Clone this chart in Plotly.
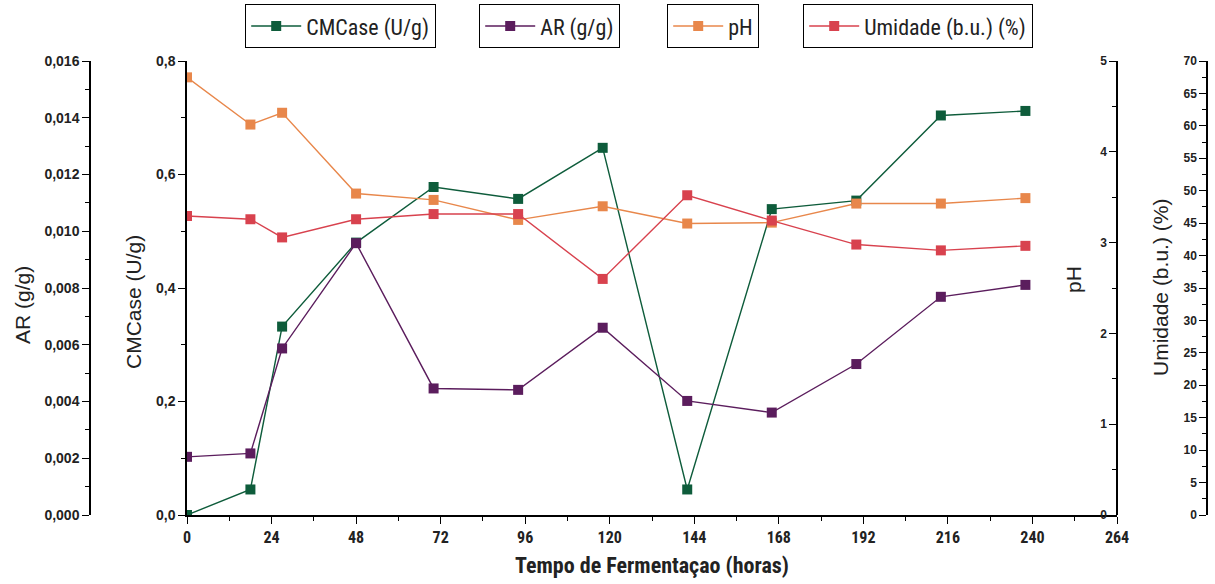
import plotly.graph_objects as go

# Data
hours = [0, 18, 27, 48, 70, 94, 118, 142, 166, 190, 214, 238]
cmcase = [0.0, 0.045, 0.332, 0.480, 0.578, 0.557, 0.647, 0.045, 0.539, 0.554, 0.704, 0.712]
ar = [0.00205, 0.00217, 0.00587, 0.00958, 0.00446, 0.00441, 0.0066, 0.00402, 0.00361, 0.00532, 0.00769, 0.00811]
ph = [4.82, 4.30, 4.43, 3.54, 3.47, 3.25, 3.40, 3.21, 3.22, 3.43, 3.43, 3.49]
umidade = [46.1, 45.6, 42.8, 45.6, 46.4, 46.4, 36.4, 49.3, 45.4, 41.7, 40.8, 41.5]

W, H = 1215, 584
PL, PR, PT, PB = 187, 1117, 61, 515  # plot box in px

GREEN = "#0e5c3b"
PURPLE = "#5b1d5d"
ORANGE = "#e8874b"
RED = "#d8424e"

NARROW = "Liberation Sans Narrow, Roboto Condensed, Liberation Sans, Arial"
LEG_FONT = dict(family=NARROW, size=22, color="#222")
TICK_FONT = dict(family="Liberation Sans, Arial", size=14, color="#222", weight="bold")
TICK_FONT_R = dict(family="Liberation Sans, Arial", size=12, color="#222", weight="bold")
XTICK_FONT = dict(family=NARROW, size=16, color="#222", weight="bold")

fig = go.Figure()

def add(name, y, color, yaxis, legend):
    fig.add_trace(go.Scatter(
        x=hours, y=y, name=name, mode="lines+markers", yaxis=yaxis,
        line=dict(color=color, width=1.4),
        marker=dict(symbol="square", size=10, color=color),
        legend=legend, showlegend=True,
    ))

add("CMCase (U/g)", cmcase, GREEN, "y", "legend")
add("AR (g/g)", ar, PURPLE, "y2", "legend2")
add("pH", ph, ORANGE, "y3", "legend3")
add("Umidade (b.u.) (%)", umidade, RED, "y4", "legend4")

def px_x(p):
    return p / W

def axis(font, minor_dtick, **kw):
    d = dict(
        showline=True, linecolor="black", linewidth=1.5,
        ticks="outside", ticklen=7, tickwidth=1.3, tickcolor="black",
        showgrid=False, zeroline=False, tickfont=font, automargin=False,
        minor=dict(ticks="outside", ticklen=4, tickwidth=1.1, tickcolor="black",
                   dtick=minor_dtick, tick0=0, showgrid=False),
    )
    d.update(kw)
    return d

legy = 1 + (PT - 4) / (PB - PT)

def leg(xpx):
    return dict(x=px_x(xpx), y=legy, xanchor="left", yanchor="top",
                orientation="h", bordercolor="black", borderwidth=1.2,
                bgcolor="white", font=LEG_FONT, itemwidth=50)

fig.update_layout(
    width=W, height=H,
    margin=dict(l=0, r=0, t=PT, b=H - PB),
    paper_bgcolor="white", plot_bgcolor="white",
    separators=",.",
    showlegend=True,
    xaxis=axis(XTICK_FONT, 12,
               domain=[px_x(PL), px_x(PR)], range=[0, 264], tickmode="linear", tick0=0, dtick=24,
               title=dict(text="<b>Tempo de Fermentaçao (horas)</b>",
                          font=dict(family=NARROW, size=22, color="#222"), standoff=12)),
    yaxis=axis(TICK_FONT, 0.1, range=[0, 0.8], tickmode="linear", tick0=0, dtick=0.2,
               tickformat=".1f", side="left", anchor="x"),
    yaxis2=axis(TICK_FONT, 0.001, range=[0, 0.016], tickmode="linear", tick0=0, dtick=0.002,
                tickformat=".3f", side="left", anchor="free", position=px_x(90), overlaying="y"),
    yaxis3=axis(TICK_FONT_R, 0.5, range=[0, 5], tickmode="linear", tick0=0, dtick=1,
                tickformat="d", side="left", anchor="free", position=px_x(PR), overlaying="y"),
    yaxis4=axis(TICK_FONT_R, 2.5, range=[0, 70], tickmode="linear", tick0=0, dtick=5,
                tickformat="d", side="left", anchor="free", position=px_x(1207), overlaying="y"),
    legend=leg(245),
    legend2=leg(479),
    legend3=leg(667),
    legend4=leg(803),
)

TITLE_FONT = dict(family="Liberation Sans, Arial", size=21, color="#222")
for text, xpx, ypx in [("AR (g/g)", 22, 305), ("CMCase (U/g)", 133, 302),
                       ("pH", 1073, 280), ("Umidade (b.u.) (%)", 1160, 288)]:
    fig.add_annotation(text=text, x=px_x(xpx), y=(PB - ypx) / (PB - PT), xref="paper", yref="paper",
                       textangle=-90, showarrow=False, font=TITLE_FONT,
                       xanchor="center", yanchor="middle")

fig.write_html("out.html", config={"displayModeBar": False},
               post_script="document.body.style.margin='0';")
